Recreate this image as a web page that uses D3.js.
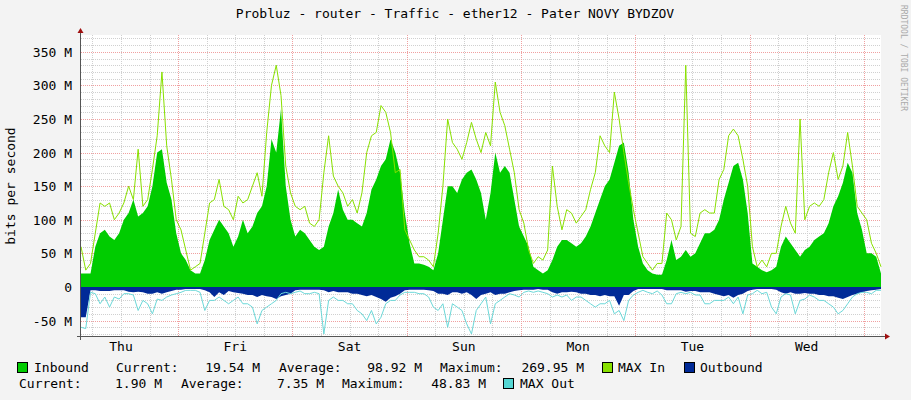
<!DOCTYPE html>
<html>
<head>
<meta charset="utf-8">
<script src="https://cdn.jsdelivr.net/npm/d3@7"></script>
<style>
  body { margin: 0; background: #f3f3f3; }
  text { font-family: "DejaVu Sans Mono", monospace; }
</style>
</head>
<body>
<div id="graph"></div>
<script>
// hourly samples, Wed ~03:30 -> next Wed ~03:30, values in M bits/s
const inbound = [20,20,20,60,80,85,75,70,80,100,110,130,105,110,120,150,200,205,155,130,80,50,40,25,20,20,40,70,85,100,90,80,60,75,100,80,90,110,120,150,220,200,265,150,100,75,85,80,70,60,55,60,90,110,145,115,100,100,95,90,110,145,160,180,190,220,200,170,110,65,35,35,33,30,25,50,100,150,150,140,160,170,175,160,140,100,140,200,170,180,170,130,90,75,60,30,25,20,25,40,60,70,70,65,60,65,75,90,110,130,150,160,185,210,215,170,100,60,35,25,20,18,18,40,70,40,45,55,45,50,65,80,80,85,100,130,155,180,185,160,110,35,30,25,22,25,30,60,75,65,55,45,55,60,70,75,80,95,120,135,155,185,170,110,85,50,50,45,20];
const maxIn = [60,25,35,80,125,120,125,100,110,125,150,130,205,120,130,175,225,320,210,160,100,85,55,25,30,35,80,125,130,160,120,115,100,135,125,130,150,170,135,230,300,330,285,180,140,120,115,120,95,90,100,170,225,165,150,140,120,130,110,140,200,225,230,270,260,230,170,175,85,70,55,45,45,40,30,80,150,250,215,205,190,215,245,220,200,230,210,305,260,240,205,170,115,95,55,35,45,40,55,180,120,85,115,110,95,105,115,145,170,225,210,200,290,250,200,155,115,80,45,35,25,35,35,110,100,70,90,330,80,75,110,115,110,110,160,175,225,235,225,190,150,60,30,40,30,50,50,90,120,95,80,250,100,120,125,120,130,170,200,160,180,230,180,120,110,100,65,50,30];
const outbound = [45,45,5,5,6,6,6,5,5,5,7,8,7,8,10,10,8,10,8,6,4,4,3,3,3,3,5,8,15,8,12,6,8,9,10,12,12,15,12,14,15,18,14,12,10,5,4,4,4,4,4,5,8,6,8,8,8,10,10,12,14,12,15,18,22,16,14,10,5,4,4,4,4,5,6,10,10,12,8,8,10,8,12,18,12,10,8,12,10,10,8,6,5,4,4,4,3,4,4,8,10,8,8,7,8,10,10,12,12,14,12,14,14,28,12,12,6,3,3,3,3,3,3,5,5,5,5,7,6,6,8,8,8,10,12,14,12,16,12,10,6,4,3,3,3,3,4,8,10,8,10,10,9,10,10,12,12,14,14,16,18,15,12,10,8,6,5,4,3];
const maxOut = [60,62,8,10,25,15,30,15,18,10,10,12,35,20,25,40,18,20,15,12,10,8,5,5,5,8,35,20,20,15,20,25,20,15,25,25,30,55,35,30,25,20,10,8,10,8,6,10,10,8,10,70,20,15,20,20,25,25,35,40,50,35,55,45,25,20,20,12,8,8,8,10,10,15,30,35,25,60,25,30,35,55,70,35,25,15,55,25,20,15,10,12,15,8,6,8,6,8,10,15,12,15,12,20,15,15,20,25,30,25,25,20,40,35,50,20,12,8,5,8,10,6,12,25,25,10,8,10,8,12,12,25,25,20,20,20,15,25,15,40,12,10,5,10,8,30,40,15,10,12,40,20,18,12,15,20,20,25,30,40,35,25,15,10,8,8,10,5,5];
const dayLabels = ['Thu', 'Fri', 'Sat', 'Sun', 'Mon', 'Tue', 'Wed'];
const yTicks = [-50, 0, 50, 100, 150, 200, 250, 300, 350];

const width = 911, height = 400;
const svg = d3.select('#graph').append('svg')
  .attr('width', width).attr('height', height);

svg.append('rect').attr('width', width).attr('height', height).attr('fill', '#f3f3f3');

const x = d3.scaleLinear().domain([0, 168]).range([81, 881]);
const y = d3.scaleLinear().domain([-73, 375]).range([336, 35]);

svg.append('rect')
  .attr('x', 81).attr('y', 35).attr('width', 800).attr('height', 301)
  .attr('fill', '#fff');

// grid
const grid = svg.append('g');
d3.range(-70, 371, 10).forEach(v => {
  const major = v % 50 === 0;
  grid.append('line')
    .attr('x1', 81).attr('x2', 881).attr('y1', Math.round(y(v)) + 0.5).attr('y2', Math.round(y(v)) + 0.5)
    .attr('stroke', major ? '#f0a0a0' : '#d0d0d0').attr('stroke-dasharray', '1,1');
});
d3.range(2.4, 168, 6).forEach((h, i) => {
  const major = (i - 3) % 4 === 0;
  grid.append('line')
    .attr('x1', Math.round(x(h)) + 0.5).attr('x2', Math.round(x(h)) + 0.5).attr('y1', 35).attr('y2', 336)
    .attr('stroke', major ? '#f0a0a0' : '#d0d0d0').attr('stroke-dasharray', '1,1');
});

const hours = d3.range(inbound.length);

svg.append('path')
  .datum(hours)
  .attr('d', d3.area().x(i => x(i)).y0(y(0)).y1(i => y(inbound[i])))
  .attr('fill', '#00cc00');

svg.append('path')
  .datum(hours)
  .attr('d', d3.line().x(i => x(i)).y(i => y(maxIn[i])))
  .attr('fill', 'none').attr('stroke', '#88e000').attr('stroke-width', 1);

svg.append('path')
  .datum(hours)
  .attr('d', d3.area().x(i => x(i)).y0(y(0)).y1(i => y(-outbound[i])))
  .attr('fill', '#002a97');

svg.append('path')
  .datum(hours)
  .attr('d', d3.line().x(i => x(i)).y(i => y(-maxOut[i])))
  .attr('fill', 'none').attr('stroke', '#6cd8d8').attr('stroke-width', 1);

// axes
svg.append('line').attr('x1', 80.5).attr('x2', 80.5).attr('y1', 32).attr('y2', 340)
  .attr('stroke', '#555');
svg.append('line').attr('x1', 77).attr('x2', 886).attr('y1', 336.5).attr('y2', 336.5)
  .attr('stroke', '#555');
svg.append('path').attr('d', 'M77.5,33 L83.5,33 L80.5,28 Z').attr('fill', '#a01010');
svg.append('path').attr('d', 'M885,333.5 L885,339.5 L890,336.5 Z').attr('fill', '#a01010');

svg.selectAll('.ylab').data(yTicks).enter().append('text')
  .attr('x', 72).attr('y', v => y(v) + 5)
  .attr('text-anchor', 'end').attr('font-size', 13)
  .text(v => v === 0 ? '0' : v + ' M');

svg.selectAll('.xlab').data(dayLabels).enter().append('text')
  .attr('x', (d, i) => x(8.4 + 24 * i)).attr('y', 351)
  .attr('text-anchor', 'middle').attr('font-size', 13)
  .text(d => d);

svg.append('text').attr('x', 455).attr('y', 18).attr('text-anchor', 'middle')
  .attr('font-size', 13).text('Probluz - router - Traffic - ether12 - Pater NOVY BYDZOV');

svg.append('text').attr('transform', 'translate(15,186) rotate(-90)')
  .attr('text-anchor', 'middle').attr('font-size', 13).text('bits per second');

svg.append('text').attr('transform', 'translate(901,5) rotate(90)')
  .attr('font-size', 8).attr('fill', '#aaa').text('RRDTOOL / TOBI OETIKER');

// legend
const legend = svg.append('g').attr('font-size', 13);
const boxes = [[17, 362, '#00cc00'], [602, 362, '#88e000'], [684, 362, '#002a97'], [503, 378, '#55d6d3']];
boxes.forEach(b => legend.append('rect').attr('x', b[0] + 0.5).attr('y', b[1] + 0.5)
  .attr('width', 10).attr('height', 10).attr('fill', b[2]).attr('stroke', '#000'));
const texts = [
  [34, 372, 'start', 'Inbound'], [116, 372, 'start', 'Current:'], [260, 372, 'end', '19.54 M'],
  [279, 372, 'start', 'Average:'], [422, 372, 'end', '98.92 M'], [440, 372, 'start', 'Maximum:'],
  [584, 372, 'end', '269.95 M'], [618, 372, 'start', 'MAX In'], [700, 372, 'start', 'Outbound'],
  [19, 388, 'start', 'Current:'], [162, 388, 'end', '1.90 M'], [181, 388, 'start', 'Average:'],
  [324, 388, 'end', '7.35 M'], [342, 388, 'start', 'Maximum:'], [486, 388, 'end', '48.83 M'],
  [520, 388, 'start', 'MAX Out']
];
texts.forEach(t => legend.append('text').attr('x', t[0]).attr('y', t[1])
  .attr('text-anchor', t[2]).text(t[3]));
</script>
</body>
</html>
